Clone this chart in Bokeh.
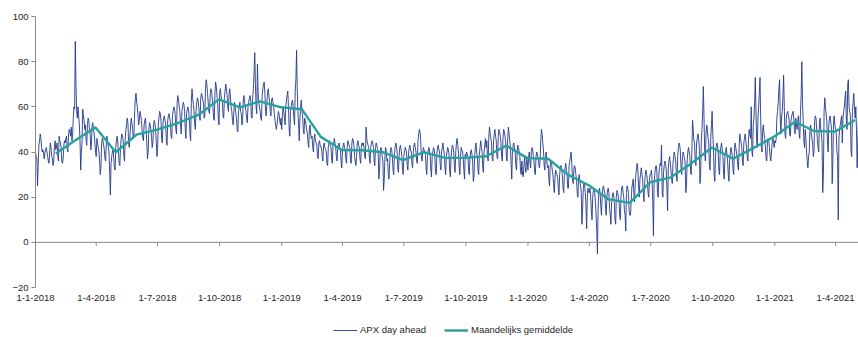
import pandas as pd
from bokeh.plotting import figure
from bokeh.layouts import column
from bokeh.models import (Range1d, FixedTicker, CustomJSTickFormatter, Legend,
                          LegendItem, Span)
from bokeh.embed import file_html
from bokeh.resources import INLINE

# ---- daily APX day-ahead prices (EUR/MWh), one list per month ----
d2018_01 = [40,38,37,25,34,43,45,48,46,42, 40,41,39,37,40,41,42,40,38,36, 35,40,44,42,38,37,34,36,42,45, 41]
d2018_02 = [42,44,38,36,47,45,44,42,36,35, 37,43,45,44,46,47,41,40,48,50, 49,47,51,45,47,55,60,59]
d2018_03 = [89,70,58,55,60,56,52,45,32,40, 44,59,56,54,50,52,45,43,52,55, 54,50,48,41,44,52,53,50,48,44, 40]
d2018_04 = [38,46,44,42,40,36,30,33,44,46, 45,43,41,37,36,45,47,44,42,40, 30,21,35,38,40,41,37,33,32,42]
d2018_05 = [45,47,44,40,35,34,42,46,48,47, 45,38,36,46,50,52,55,53,44,42, 47,52,55,53,50,46,48,58,64,66, 62]
d2018_06 = [60,56,52,55,58,56,54,50,46,45, 52,54,55,50,44,37,40,50,53,52, 50,47,42,44,52,54,53,50,45,38]
d2018_07 = [42,52,55,58,57,54,46,44,53,55, 56,54,52,45,43,54,56,57,55,53, 47,46,56,58,60,59,57,50,48,62, 65]
d2018_08 = [63,60,58,52,48,58,60,62,61,58, 50,46,57,59,60,58,55,48,45,62, 68,64,61,58,52,50,58,62,64,63, 60]
d2018_09 = [56,54,64,66,65,63,62,55,56,68, 72,70,66,62,58,57,66,68,67,64, 60,55,54,66,71,69,65,62,55,52]
d2018_10 = [66,68,65,63,62,56,55,64,67,70, 68,65,60,58,66,68,64,60,58,54, 52,58,62,60,57,55,50,49,58,60, 62]
d2018_11 = [58,57,52,54,63,65,62,60,58,55, 53,60,62,64,65,63,56,55,64,68, 75,84,70,60,57,79,66,62,60,58]
d2018_12 = [55,54,65,68,70,71,66,58,56,62, 66,68,65,62,58,56,63,64,62,60, 57,54,52,50,52,55,58,57,54,52, 55]
d2019_01 = [50,56,60,58,55,52,60,63,65,67, 60,50,47,58,60,62,63,60,55,52, 67,72,85,68,58,52,45,55,60,63, 58]
d2019_02 = [56,50,48,55,54,52,50,48,44,42, 50,52,48,46,47,42,40,46,48,45, 44,43,38,37,44,45,43,42]
d2019_03 = [42,38,36,43,44,42,41,40,35,34, 42,44,45,43,42,37,35,43,44,46, 44,42,38,36,42,43,44,42,41,36, 33]
d2019_04 = [40,43,44,42,41,37,35,42,45,44, 43,42,36,35,44,46,45,43,38,36, 34,38,44,45,43,42,37,35,42,44]
d2019_05 = [43,44,42,38,37,51,46,44,43,42, 37,35,42,44,45,44,42,36,34,42, 44,43,41,40,28,32,40,42,41,38, 36]
d2019_06 = [23,28,38,42,40,36,37,30,28,35, 40,42,41,38,32,30,38,42,44,43, 40,33,31,38,42,43,41,38,33,30]
d2019_07 = [38,40,42,41,40,34,32,39,42,43, 41,40,35,33,40,43,44,42,40,36, 35,45,48,50,49,45,38,36,40,42, 41]
d2019_08 = [40,39,33,30,38,40,42,41,39,32, 29,38,40,42,41,38,31,30,39,42, 43,41,40,34,32,40,42,44,41,39, 33]
d2019_09 = [30,38,40,42,41,39,32,29,38,41, 43,42,40,33,31,40,44,46,43,40, 34,30,38,42,41,40,38,32,28,39]
d2019_10 = [38,40,39,38,32,30,37,40,41,39, 36,27,29,38,42,44,40,38,32,30, 39,42,45,42,40,33,31,40,43,46, 42]
d2019_11 = [45,38,36,47,51,48,46,44,37,36, 45,48,50,47,45,38,37,47,50,49, 47,44,38,36,46,50,49,47,44,38]
d2019_12 = [36,46,51,48,45,42,35,28,40,43, 44,42,40,34,32,40,43,42,40,38, 32,30,36,30,29,34,38,33,31,38, 36]
d2020_01 = [32,38,40,35,33,40,42,41,38,36, 31,30,38,40,39,37,35,33,36,45, 50,48,44,41,34,32,38,40,36,33, 34]
d2020_02 = [28,25,34,36,35,32,30,26,22,28, 32,31,30,29,24,21,30,33,34,32, 30,24,22,30,33,35,32,30,24]
d2020_03 = [24,34,36,38,40,35,28,26,32,34, 33,30,28,22,20,28,30,27,25,22, 8,14,24,26,25,22,16,6,20,24, 22]
d2020_04 = [22,24,20,14,10,20,23,24,22,18, 12,5,-5,15,22,24,22,16,12,20, 24,25,23,22,15,12,20,23,24,22]
d2020_05 = [15,12,8,18,20,22,21,18,10,8, 20,23,22,20,18,12,10,21,24,25, 22,20,14,12,5,22,25,24,22,14, 12]
d2020_06 = [12,18,24,26,28,22,18,26,30,33, 35,32,24,20,28,30,33,30,28,22, 18,26,30,32,30,28,22,20,27,30]
d2020_07 = [30,32,28,18,3,26,30,33,34,32, 22,20,30,33,35,34,43,22,20,31, 34,36,35,32,24,14,33,36,38,35, 32]
d2020_08 = [28,26,35,38,40,38,36,30,27,38, 42,44,43,40,32,30,38,40,39,37, 35,22,25,36,40,42,40,38,32,30, 40]
d2020_09 = [54,50,45,44,36,34,44,46,48,46, 42,26,30,45,50,58,69,55,40,36, 48,52,50,46,44,34,32,46,52,58]
d2020_10 = [48,42,30,27,38,42,44,43,40,32, 30,40,42,44,41,38,30,28,38,40, 42,39,36,30,27,36,40,42,40,38, 32]
d2020_11 = [30,40,44,42,40,38,34,32,42,48, 46,44,42,36,34,44,46,48,45,42, 38,36,46,50,48,46,60,40,38,52]
d2020_12 = [55,62,73,58,45,42,56,60,66,73, 55,42,40,50,52,48,46,42,37,36, 44,46,45,42,38,36,40,44,46,45, 42]
d2021_01 = [45,44,46,55,58,62,68,72,55,48, 56,58,65,74,60,48,46,55,57,58, 56,55,48,47,54,56,57,58,55,50, 48]
d2021_02 = [55,52,50,54,56,48,46,58,65,80, 62,54,45,42,50,46,40,36,33,38, 40,50,52,48,46,44,38,40]
d2021_03 = [54,56,55,50,46,42,40,52,55,50, 48,44,22,30,58,64,60,57,54,44, 40,52,55,56,53,50,26,36,54,56, 52]
d2021_04 = [50,48,40,38,10,46,50,52,54,56, 44,55,58,60,64,67,54,50,70,72, 60,58,56,40,38,58,62,66,60,55]
d2021_05 = [60,50,33,45,55]

month_starts = ["2018-01-01","2018-02-01","2018-03-01","2018-04-01","2018-05-01","2018-06-01",
                "2018-07-01","2018-08-01","2018-09-01","2018-10-01","2018-11-01","2018-12-01",
                "2019-01-01","2019-02-01","2019-03-01","2019-04-01","2019-05-01","2019-06-01",
                "2019-07-01","2019-08-01","2019-09-01","2019-10-01","2019-11-01","2019-12-01",
                "2020-01-01","2020-02-01","2020-03-01","2020-04-01","2020-05-01","2020-06-01",
                "2020-07-01","2020-08-01","2020-09-01","2020-10-01","2020-11-01","2020-12-01",
                "2021-01-01","2021-02-01","2021-03-01","2021-04-01","2021-05-01"]
daily_lists = [d2018_01,d2018_02,d2018_03,d2018_04,d2018_05,d2018_06,d2018_07,d2018_08,d2018_09,
               d2018_10,d2018_11,d2018_12,d2019_01,d2019_02,d2019_03,d2019_04,d2019_05,d2019_06,
               d2019_07,d2019_08,d2019_09,d2019_10,d2019_11,d2019_12,d2020_01,d2020_02,d2020_03,
               d2020_04,d2020_05,d2020_06,d2020_07,d2020_08,d2020_09,d2020_10,d2020_11,d2020_12,
               d2021_01,d2021_02,d2021_03,d2021_04,d2021_05]

# ---- monthly averages (plotted at month end) ----
avg_2018 = [39.3, 45.0, 50.9, 39.9, 47.7, 49.9, 52.8, 56.5, 63.3, 59.8, 62.4, 59.8]
avg_2019 = [58.9, 46.7, 40.9, 40.8, 39.9, 36.4, 39.9, 37.4, 37.4, 38.1, 42.8, 37.3]
avg_2020 = [37.0, 30.0, 25.3, 19.0, 17.5, 26.6, 28.8, 35.1, 42.0, 37.0, 41.7, 46.8]
avg_2021 = [53.4, 49.3, 49.0, 54.2]

series_names = ["APX day ahead", "Maandelijks gemiddelde"]
tick_dates = ["2018-01-01","2018-04-01","2018-07-01","2018-10-01","2019-01-01","2019-04-01",
              "2019-07-01","2019-10-01","2020-01-01","2020-04-01","2020-07-01","2020-10-01",
              "2021-01-01","2021-04-01"]
y_ticks = [-20, 0, 20, 40, 60, 80, 100]
x_start, x_end = "2018-01-01", "2021-05-05"

# ---- build series ----
dates, values = [], []
for start, vals in zip(month_starts, daily_lists):
    dates.extend(pd.date_range(start, periods=len(vals), freq="D"))
    values.extend(vals)

avg_vals = avg_2018 + avg_2019 + avg_2020 + avg_2021
avg_dates = pd.date_range("2018-01-31", periods=len(avg_vals), freq="ME")

FONT = "Liberation Sans"
TXT = "#262626"
AXC = "#8a8a8a"
C_DAY = "#22398a"
C_AVG = "#27a19e"

def ms(d):
    return pd.Timestamp(d).value / 1e6

p = figure(width=858, height=303, x_axis_type="datetime",
           x_range=Range1d(ms(x_start), ms(x_end)), y_range=Range1d(-20, 100),
           output_backend="svg", toolbar_location=None,
           min_border_left=35, min_border_right=0, min_border_top=16, min_border_bottom=15)
p.outline_line_color = None
p.grid.visible = False
p.background_fill_color = "white"
p.border_fill_color = "white"

# zero line with quarter ticks (Excel category axis crossing at 0)
p.add_layout(Span(location=0, dimension="width", line_color=AXC, line_width=1))
tick_dt = [pd.Timestamp(t) for t in tick_dates]
p.segment(x0=tick_dt, y0=[0]*len(tick_dt), x1=tick_dt, y1=[-1.6]*len(tick_dt),
          line_color=AXC, line_width=1)

p.line(dates, values, line_color=C_DAY, line_width=0.9)
p.line(avg_dates, avg_vals, line_color=C_AVG, line_width=2.4)

# y axis
p.yaxis.ticker = FixedTicker(ticks=y_ticks)
p.yaxis.axis_line_color = AXC
p.yaxis.major_tick_line_color = AXC
p.yaxis.major_tick_out = 4
p.yaxis.major_tick_in = 0
p.yaxis.minor_tick_line_color = None
p.yaxis.major_label_text_font = FONT
p.yaxis.major_label_text_font_size = "9.5px"
p.yaxis.major_label_text_color = TXT
p.yaxis.major_label_standoff = 3

# x axis (labels only, at the bottom)
p.xaxis.ticker = FixedTicker(ticks=[ms(t) for t in tick_dates])
p.xaxis.formatter = CustomJSTickFormatter(code="""
const d = new Date(tick);
return d.getUTCDate() + "-" + (d.getUTCMonth() + 1) + "-" + d.getUTCFullYear();
""")
p.xaxis.axis_line_color = None
p.xaxis.major_tick_line_color = None
p.xaxis.minor_tick_line_color = None
p.xaxis.major_label_text_font = FONT
p.xaxis.major_label_text_font_size = "9.5px"
p.xaxis.major_label_text_color = TXT
p.xaxis.major_label_standoff = 1

# ---- legend strip below the chart (key glyphs drawn off-range, only their legend swatches show) ----
lg = figure(width=858, height=34, x_range=Range1d(0, 1), y_range=Range1d(0, 1),
            output_backend="svg", toolbar_location=None,
            min_border_left=0, min_border_right=0, min_border_top=0, min_border_bottom=0)
lg.axis.visible = False
lg.grid.visible = False
lg.outline_line_color = None
lg.background_fill_color = "white"
lg.border_fill_color = "white"
k1 = lg.line([-5, -4], [-5, -4], line_color=C_DAY, line_width=0.9)
k2 = lg.line([-5, -4], [-5, -4], line_color=C_AVG, line_width=2.4)
legend = Legend(items=[LegendItem(label=series_names[0], renderers=[k1]),
                       LegendItem(label=series_names[1], renderers=[k2])],
                orientation="horizontal", location=(298, 2),
                border_line_color=None, background_fill_alpha=0,
                label_text_font=FONT, label_text_font_size="9.5px", label_text_color=TXT,
                glyph_width=24, glyph_height=10, label_standoff=3, spacing=18,
                padding=0, margin=0)
lg.add_layout(legend, "center")

layout = column(p, lg, spacing=0)
open("out.html", "w").write(file_html(layout, INLINE))
